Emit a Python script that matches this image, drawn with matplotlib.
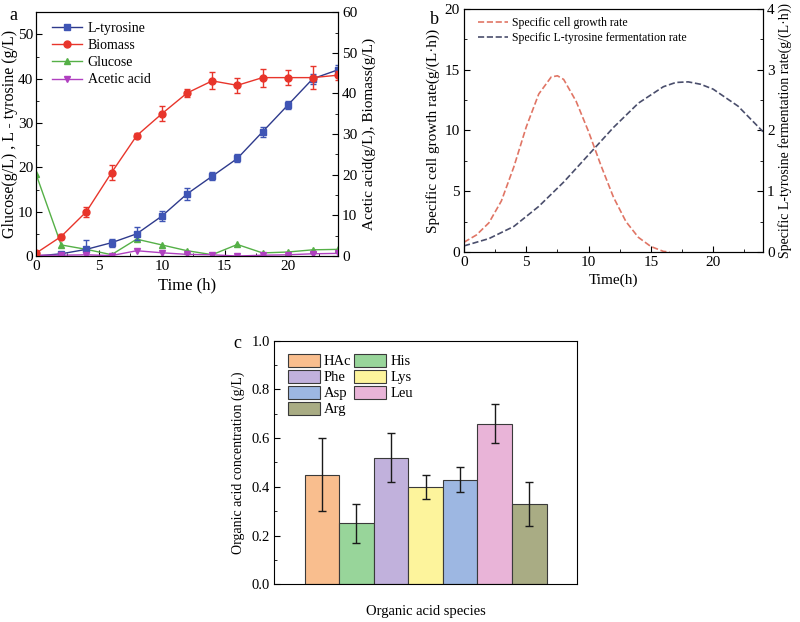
import matplotlib
matplotlib.use("Agg")
import matplotlib.pyplot as plt
from matplotlib.ticker import MultipleLocator
from matplotlib.lines import Line2D

plt.rcParams['font.family'] = ['Liberation Serif', 'DejaVu Serif']
plt.rcParams['font.size'] = 10

# ---- panel a data (left axis: g/L) ----
time_a = [0, 2, 4, 6, 8, 10, 12, 14, 16, 18, 20, 22, 24]
tyrosine = [0, 0.5, 1.5, 3, 5, 9, 14, 18, 22, 28, 34, 40, 42]
tyrosine_err = [0.2, 0.3, 2.0, 0.9, 1.5, 1.1, 1.3, 0.9, 0.9, 1.1, 0.9, 1.1, 1.0]
glucose = [18.5, 2.5, 1.5, 0.3, 3.8, 2.5, 1.2, 0.3, 2.6, 0.7, 0.9, 1.4, 1.5]
# right axis: g/L
biomass = [0.7, 4.8, 10.9, 20.5, 29.6, 35.0, 40.1, 43.1, 42.0, 43.9, 43.9, 43.9, 44.5]
biomass_err = [0.3, 0.5, 1.2, 1.8, 0.6, 1.8, 1.0, 2.1, 1.8, 2.2, 1.8, 2.8, 1.1]
acetic = [0.2, 0.2, 0.3, 0.1, 1.3, 0.8, 0.4, 0.3, 0.0, 0.2, 0.3, 0.55, 0.65]

# ---- panel b data ----
time_mu = [0, 1, 2, 3, 4, 5, 6, 7, 7.5, 8, 9, 10, 11, 12, 13, 14, 15, 16, 16.5]
growth_rate = [0.8, 1.4, 2.4, 4.2, 7.0, 10.3, 13.0, 14.4, 14.5, 14.2, 12.4, 9.9,
               7.1, 4.5, 2.5, 1.2, 0.45, 0.05, 0.0]
time_q = [0, 2, 4, 6, 8, 10, 12, 14, 16, 17, 18, 19, 20, 22, 24]
tyr_rate = [0.1, 0.22, 0.42, 0.75, 1.15, 1.6, 2.05, 2.45, 2.72, 2.79, 2.8, 2.76,
            2.68, 2.4, 1.98]

# ---- panel c data ----
species = ['HAc', 'His', 'Phe', 'Lys', 'Asp', 'Leu', 'Arg']
conc = [0.45, 0.25, 0.52, 0.40, 0.43, 0.66, 0.33]
conc_err = [0.15, 0.08, 0.10, 0.05, 0.05, 0.08, 0.09]
bar_colors = ['#F9BE8E', '#98D59A', '#C1B1DC', '#FDF49C', '#9DB7E2', '#E9B4D8', '#A9AC84']

fig = plt.figure(figsize=(8, 6.22), dpi=100)


def style(ax, size):
    ax.tick_params(which='both', direction='in', labelsize=size, pad=3)
    ax.tick_params(which='major', length=4)
    ax.tick_params(which='minor', length=2)


# ================= panel a =================
ax = fig.add_axes([0.045, 0.5884, 0.3775, 0.392])
axr = ax.twinx()
ax.errorbar(time_a, tyrosine, yerr=tyrosine_err, color='#2E3A8C', marker='s', ms=5,
            mfc='#3F55B5', mec='#3F55B5', ecolor='#3F55B5', capsize=2.5, lw=1, zorder=4)
ax.plot(time_a, glucose, color='#55B047', marker='^', ms=5, lw=1, zorder=3)
axr.errorbar(time_a, biomass, yerr=biomass_err, color='#E8352B', marker='o', ms=5,
             capsize=2.5, lw=1)
axr.plot(time_a, acetic, color='#B040C0', marker='v', ms=5, lw=1)
ax.set_xlim(0, 24)
ax.set_ylim(0, 55)
axr.set_ylim(0, 60)
ax.xaxis.set_major_locator(MultipleLocator(5))
ax.xaxis.set_minor_locator(MultipleLocator(2.5))
ax.yaxis.set_major_locator(MultipleLocator(10))
ax.yaxis.set_minor_locator(MultipleLocator(5))
axr.yaxis.set_major_locator(MultipleLocator(10))
axr.yaxis.set_minor_locator(MultipleLocator(5))
style(ax, 11)
style(axr, 11)
ax.tick_params(axis='y', pad=2)
ax.set_xlabel('Time (h)', fontsize=12, labelpad=3)
ax.set_ylabel('Glucose(g/L) , L - tyrosine (g/L)', fontsize=11.5, labelpad=0)
axr.set_ylabel('Acetic acid(g/L), Biomass(g/L)', fontsize=11, labelpad=4)
handles = [
    Line2D([], [], color='#2E3A8C', marker='s', mfc='#3F55B5', mec='#3F55B5', ms=5, lw=1),
    Line2D([], [], color='#E8352B', marker='o', ms=5, lw=1),
    Line2D([], [], color='#55B047', marker='^', ms=5, lw=1),
    Line2D([], [], color='#B040C0', marker='v', ms=5, lw=1),
]
ax.legend(handles, ['L-tyrosine', 'Biomass', 'Glucose', 'Acetic acid'], loc='upper left',
          frameon=False, fontsize=10, handlelength=2.2, borderaxespad=0.3,
          labelspacing=0.3, handletextpad=0.4, bbox_to_anchor=(0.02, 1.0))
fig.text(0.012, 0.975, 'a', fontsize=13, va='center')

# ================= panel b =================
bx = fig.add_axes([0.58, 0.5949, 0.37375, 0.3907])
bxr = bx.twinx()
l1, = bx.plot(time_mu, growth_rate, color='#E07565', ls='--', lw=1.2)
l2, = bxr.plot(time_q, tyr_rate, color='#4A4E6C', ls='--', lw=1.2)
bx.set_xlim(0, 24)
bx.set_ylim(0, 20)
bxr.set_ylim(0, 4)
bx.xaxis.set_major_locator(MultipleLocator(5))
bx.xaxis.set_minor_locator(MultipleLocator(2.5))
bx.yaxis.set_major_locator(MultipleLocator(5))
bx.yaxis.set_minor_locator(MultipleLocator(2.5))
bxr.yaxis.set_major_locator(MultipleLocator(1))
bxr.yaxis.set_minor_locator(MultipleLocator(0.5))
style(bx, 11)
style(bxr, 11)
bx.set_xlabel('Time(h)', fontsize=11, labelpad=3)
bx.set_ylabel('Specific cell growth rate(g/(L·h))', fontsize=11, labelpad=3)
bxr.set_ylabel('Specific L-tyrosine fermentation rate(g/(L·h))', fontsize=10, labelpad=2)
bx.legend([l1, l2], ['Specific cell growth rate', 'Specific L-tyrosine fermentation rate'],
          loc='upper left', frameon=False, fontsize=8.5, handlelength=2.5,
          borderaxespad=0.3, labelspacing=0.25, handletextpad=0.4,
          bbox_to_anchor=(0.02, 1.0))
fig.text(0.538, 0.968, 'b', fontsize=13, va='center')

# ================= panel c =================
cx = fig.add_axes([0.343, 0.0606, 0.378, 0.3917])
xpos = range(len(species))
bars = cx.bar(xpos, conc, width=1.0, color=bar_colors, edgecolor='#3a3a3a', lw=0.8)
cx.errorbar(xpos, conc, yerr=conc_err, fmt='none', ecolor='#1a1a1a', capsize=3, lw=1)
cx.set_xlim(-1.37, 7.37)
cx.set_ylim(0, 1.0)
cx.set_xticks([])
cx.yaxis.set_major_locator(MultipleLocator(0.2))
cx.yaxis.set_minor_locator(MultipleLocator(0.1))
style(cx, 10.5)
cx.set_xlabel('Organic acid species', fontsize=10.5, labelpad=15)
cx.set_ylabel('Organic acid concentration (g/L)', fontsize=10, labelpad=5)
order = [0, 2, 4, 6, 1, 3, 5]
cx.legend([bars[i] for i in order], [species[i] for i in order], ncol=2, loc='upper left',
          frameon=False, fontsize=10.5, handlelength=2.2, handleheight=1.0,
          columnspacing=0.2, labelspacing=0.1, handletextpad=0.3,
          borderaxespad=0.5)
fig.text(0.292, 0.448, 'c', fontsize=13, va='center')

fig.savefig('out.png', dpi=100)
